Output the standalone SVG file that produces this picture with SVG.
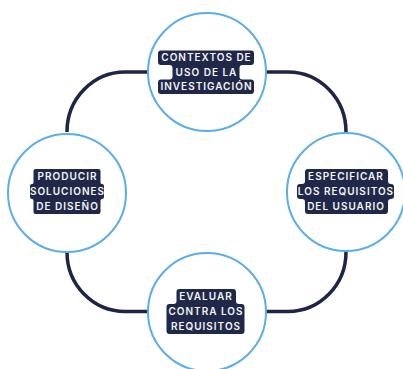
<svg xmlns="http://www.w3.org/2000/svg" width="403" height="369" viewBox="0 0 403 369">
  <style>
    .ring { fill: #ffffff; stroke: #5badec; stroke-width: 2; }
    .link { fill: none; stroke: #1d2646; stroke-width: 3.5; stroke-linecap: butt; }
    .tag { fill: #1f2848; }
    .label { font-family: Inter, "Liberation Sans", sans-serif; font-size: 10px; font-weight: 600; letter-spacing: 1px; fill: #f5f5f5; text-anchor: middle; }
  </style>
  <rect width="403" height="369" fill="#ffffff"/>

  <!-- cycle connectors: one rounded loop drawn as four corner segments -->
  <g id="connectors">
    <path class="link" d="M 149 72 H 125 A 58 60 0 0 0 67 132"/>
    <path class="link" d="M 265 72 H 288 A 58 60 0 0 1 346 132"/>
    <path class="link" d="M 346 250 V 252 A 58 59.5 0 0 1 288 311.5 H 265"/>
    <path class="link" d="M 149 311.5 H 125 A 58 59.5 0 0 1 67 252"/>
  </g>

  <!-- top: contexts of use -->
  <g id="node-contextos">
    <circle class="ring" cx="207" cy="72" r="59"/>
    <path class="tag" d="M 161 50.5 H 251 A 3 3 0 0 1 254 53.5 V 62 A 3 3 0 0 1 251 65 H 242.5 A 3 3 0 0 0 239.5 68 V 76.5 A 3 3 0 0 0 242.5 79.5 H 251 A 3 3 0 0 1 254 82.5 V 91 A 3 3 0 0 1 251 94 H 161 A 3 3 0 0 1 158 91 V 82.5 A 3 3 0 0 1 161 79.5 H 169.5 A 3 3 0 0 0 172.5 76.5 V 68 A 3 3 0 0 0 169.5 65 H 161 A 3 3 0 0 1 158 62 V 53.5 A 3 3 0 0 1 161 50.5 Z"/>
    <text class="label" x="206.5" y="61.4">CONTEXTOS DE</text>
    <text class="label" x="206.5" y="75.9">USO DE LA</text>
    <text class="label" x="206.5" y="90.4">INVESTIGACIÓN</text>
  </g>

  <!-- right: user requirements -->
  <g id="node-especificar">
    <circle class="ring" cx="346" cy="192" r="59"/>
    <path class="tag" d="M 308 169 H 385 A 3 3 0 0 1 388 172 V 181 A 3 3 0 0 0 391 184 H 391 A 3 3 0 0 1 394 187 V 196 A 3 3 0 0 1 391 199 A 3 3 0 0 0 388 202 V 211 A 3 3 0 0 1 385 214 H 308 A 3 3 0 0 1 305 211 V 202 A 3 3 0 0 0 302 199 H 300 A 3 3 0 0 1 297 196 V 187 A 3 3 0 0 1 300 184 H 302 A 3 3 0 0 0 305 181 V 172 A 3 3 0 0 1 308 169 Z"/>
    <text class="label" x="346" y="180">ESPECIFICAR</text>
    <text class="label" x="346" y="195">LOS REQUISITOS</text>
    <text class="label" x="346" y="210">DEL USUARIO</text>
  </g>

  <!-- bottom: evaluate against requirements -->
  <g id="node-evaluar">
    <circle class="ring" cx="207" cy="312" r="59"/>
    <path class="tag" d="M 179.5 289 H 233 A 3 3 0 0 1 236 292 V 301 A 3 3 0 0 0 239 304 H 241.5 A 3 3 0 0 1 244.5 307 V 331 A 3 3 0 0 1 241.5 334 H 169.5 A 3 3 0 0 1 166.5 331 V 307 A 3 3 0 0 1 169.5 304 H 173.5 A 3 3 0 0 0 176.5 301 V 292 A 3 3 0 0 1 179.5 289 Z"/>
    <text class="label" x="206" y="300">EVALUAR</text>
    <text class="label" x="206" y="315">CONTRA LOS</text>
    <text class="label" x="206" y="330">REQUISITOS</text>
  </g>

  <!-- left: produce design solutions -->
  <g id="node-producir">
    <circle class="ring" cx="67" cy="193" r="59"/>
    <path class="tag" d="M 35.5 169 H 98.5 A 2 2 0 0 1 100.5 171 V 182.5 A 1.5 1.5 0 0 0 102 184 A 2 2 0 0 1 104 186 V 197 A 2 2 0 0 1 102 199 A 1.5 1.5 0 0 0 100.5 200.5 V 212 A 2 2 0 0 1 98.5 214 H 35.5 A 2 2 0 0 1 33.5 212 V 200.5 A 1.5 1.5 0 0 0 32 199 A 2 2 0 0 1 30 197 V 186 A 2 2 0 0 1 32 184 A 1.5 1.5 0 0 0 33.5 182.5 V 171 A 2 2 0 0 1 35.5 169 Z"/>
    <text class="label" x="67.5" y="180">PRODUCIR</text>
    <text class="label" x="67.5" y="195">SOLUCIONES</text>
    <text class="label" x="67.5" y="210">DE DISEÑO</text>
  </g>
</svg>
